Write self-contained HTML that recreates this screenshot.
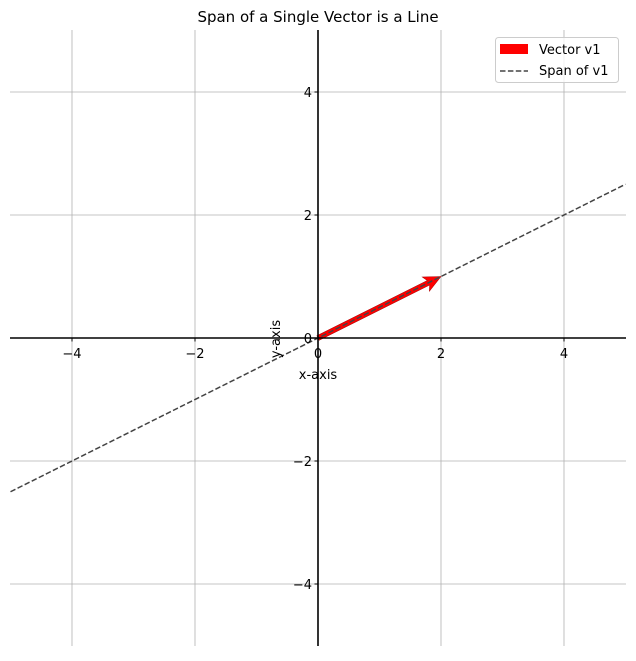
<!DOCTYPE html>
<html><head><meta charset="utf-8"><style>
body{margin:0;background:#fff}
svg text{font-family:"DejaVu Sans","Liberation Sans",sans-serif;font-size:13px;fill:#000}
</style></head><body>
<svg id="chart" width="636" height="656" xmlns="http://www.w3.org/2000/svg">
<text x="318" y="22" text-anchor="middle" style="font-size:15px">Span of a Single Vector is a Line</text>
<g id="grid"></g>
<g id="marks"></g>
<g id="axes"></g>
<text x="318" y="379" text-anchor="middle">x-axis</text>
<text transform="translate(280,339) rotate(-90)" text-anchor="middle">y-axis</text>
<g>
<rect x="495.5" y="37.5" width="123" height="45" rx="3" fill="#fff" fill-opacity="0.8" stroke="#ccc"/>
<rect x="500" y="44" width="28" height="10" fill="red"/>
<text x="539" y="54">Vector v1</text>
<line x1="500" y1="71" x2="528" y2="71" stroke="#444" stroke-width="1.5" stroke-dasharray="5.5,2.4"/>
<text x="539" y="75">Span of v1</text>
</g>
</svg>
<script>
const xTicks=[-4,-2,0,2,4];
const yTicks=[-4,-2,0,2,4];
const vector=[2,1];
const spanT=[-2.5,2.5];
const NS="http://www.w3.org/2000/svg";
const X=v=>318+v*61.5, Y=v=>338-v*61.5;
function mk(p,tag,a){const e=document.createElementNS(NS,tag);for(const k in a)e.setAttribute(k,a[k]);p.appendChild(e);return e;}
const grid=document.getElementById('grid'),marks=document.getElementById('marks'),axes=document.getElementById('axes');
xTicks.forEach(t=>{const l=mk(grid,'line',{x1:X(t),x2:X(t),y1:30,y2:646,stroke:'#b0b0b0','stroke-width':0.8});

});
yTicks.forEach(t=>{const l=mk(grid,'line',{y1:Y(t),y2:Y(t),x1:10,x2:626,stroke:'#b0b0b0','stroke-width':0.8});

});
// vector arrow
const x1=X(vector[0]),y1=Y(vector[1]),x0=X(0),y0=Y(0);
const ang=Math.atan2(y1-y0,x1-x0),len=Math.hypot(x1-x0,y1-y0);
const g=mk(marks,'g',{transform:`translate(${x0},${y0}) rotate(${ang*180/Math.PI})`});


mk(g,'polygon',{points:`0,-2.5 ${len-14},-2.5 ${len-17},-8 ${len},0 ${len-17},8 ${len-14},2.5 0,2.5`,fill:'red',stroke:'#a00','stroke-width':0.5});
// span line
const s=mk(marks,'line',{x1:X(vector[0]*spanT[0]),y1:Y(vector[1]*spanT[0]),x2:X(vector[0]*spanT[1]),y2:Y(vector[1]*spanT[1]),stroke:'#444','stroke-width':1.5,'stroke-dasharray':'5.5,2.4'});


// spines
const sx=mk(axes,'line',{x1:10,x2:626,y1:Y(0),y2:Y(0),stroke:'#000','stroke-width':1.6});


const sy=mk(axes,'line',{x1:X(0),x2:X(0),y1:30,y2:646,stroke:'#000','stroke-width':1.6});


const lab=t=>(t<0?'\u2212':'')+Math.abs(t);
xTicks.forEach(t=>{mk(axes,'line',{x1:X(t),x2:X(t),y1:Y(0),y2:Y(0)+3.5,stroke:'#000'});
const e=mk(axes,'text',{x:X(t),y:Y(0)+20,'text-anchor':'middle'});e.textContent=lab(t);

});
yTicks.forEach(t=>{mk(axes,'line',{x1:X(0)-3.5,x2:X(0),y1:Y(t),y2:Y(t),stroke:'#000'});
const e=mk(axes,'text',{x:X(0)-6,y:Y(t)+5,'text-anchor':'end'});e.textContent=lab(t);

});
</script>
</body></html>
